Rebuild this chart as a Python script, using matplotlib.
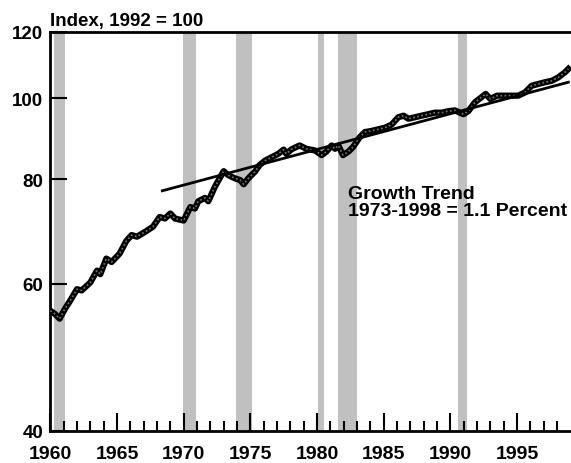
import numpy as np
import matplotlib.pyplot as plt
from matplotlib.ticker import FixedLocator, NullFormatter

# Index, 1992 = 100
years = [1960.0, 1960.35, 1960.7, 1961.1, 1961.5, 1962.0, 1962.35, 1963.0, 1963.5, 1963.75,
         1964.2, 1964.6, 1965.2, 1965.7, 1966.1, 1966.5, 1967.1, 1967.7, 1968.2, 1968.6,
         1969.0, 1969.35, 1970.0, 1970.5, 1970.85, 1971.1, 1971.6, 1971.85, 1972.35, 1973.0,
         1973.35, 1973.85, 1974.25, 1974.5, 1974.85, 1975.35, 1975.7, 1976.1, 1976.6, 1977.1,
         1977.5, 1977.7, 1978.1, 1978.7, 1979.2, 1979.85, 1980.35, 1980.7, 1981.1, 1981.35,
         1981.6, 1981.95, 1982.35, 1982.7, 1983.2, 1983.6, 1984.1, 1984.6, 1985.1, 1985.6,
         1986.1, 1986.5, 1986.85, 1987.35, 1987.85, 1988.35, 1988.85, 1989.35, 1989.85, 1990.35,
         1990.7, 1991.0, 1991.35, 1991.85, 1992.35, 1992.65, 1993.0, 1993.5, 1994.0, 1994.6,
         1995.1, 1995.6, 1996.1, 1996.6, 1997.1, 1997.6, 1998.1, 1998.6, 1998.85]
index = [55.7, 55.2, 54.5, 56.0, 57.3, 59.1, 58.9, 60.2, 62.2, 61.6,
         64.3, 63.7, 65.2, 67.5, 68.6, 68.3, 69.2, 70.2, 72.1, 71.8,
         72.8, 71.8, 71.4, 74.1, 73.8, 75.3, 76.0, 75.3, 78.4, 81.8,
         80.9, 80.2, 79.8, 78.9, 80.2, 81.7, 83.2, 84.2, 85.0, 85.8,
         86.8, 85.8, 86.9, 87.8, 87.0, 86.6, 85.5, 86.3, 87.8, 87.0,
         87.8, 85.5, 86.3, 87.4, 89.8, 91.1, 91.4, 91.8, 92.2, 93.0,
         94.9, 95.3, 94.5, 94.9, 95.3, 95.7, 96.1, 96.1, 96.5, 96.7,
         96.1, 95.7, 96.5, 98.9, 100.3, 101.2, 99.8, 100.7, 100.7, 100.7,
         100.7, 101.6, 103.5, 104.0, 104.5, 104.9, 105.9, 107.4, 108.4]

trend_years = [1968.4, 1998.85]
trend_vals = [77.5, 104.5]

recessions = [(1960.3, 1961.1), (1969.95, 1970.9), (1973.9, 1975.15),
              (1980.05, 1980.55), (1981.6, 1983.0), (1990.6, 1991.25)]

ytick_vals = [40, 60, 80, 100, 120]

plt.rcParams['font.family'] = 'Liberation Sans'
plt.rcParams['font.weight'] = 'bold'

fig = plt.figure(figsize=(5.71, 4.64), dpi=100)
ax = fig.add_axes([0.0881, 0.069, 0.9119, 0.8599])

for a, b in recessions:
    ax.axvspan(a, b, color='#c0c0c0', lw=0, zorder=1)

ax.plot(years, index, color='black', lw=4.5, solid_joinstyle='round', zorder=3)
ax.plot(years, index, color='#777777', lw=1.2, ls=(0, (1, 1.5)), zorder=4)
ax.plot(trend_years, trend_vals, color='black', lw=2, zorder=5)

ax.set_yscale('log')
ax.set_ylim(40, 120)
ax.set_xlim(1960, 1999.05)
ax.yaxis.set_major_locator(FixedLocator(ytick_vals))
ax.yaxis.set_minor_formatter(NullFormatter())
ax.yaxis.set_minor_locator(FixedLocator([]))
ax.set_yticklabels([str(v) for v in ytick_vals])
ax.set_xticks(np.arange(1960, 1996, 5))
ax.set_xticks(np.arange(1960, 1999, 1), minor=True)

ax.tick_params(axis='y', direction='in', length=12, width=1.5, pad=5, labelsize=13.5)
ax.tick_params(axis='x', which='major', direction='in', length=13, width=1.5, pad=10, labelsize=14)
ax.tick_params(axis='x', which='minor', direction='in', length=7, width=1.5)
ax.tick_params(right=False)

for s in ['left', 'bottom', 'top']:
    ax.spines[s].set_linewidth(2)
ax.spines['right'].set_visible(False)

fig.text(0.0881, 0.943, 'Index, 1992 = 100', fontsize=13.5, fontweight='bold', ha='left', va='baseline')
ax.text(1982.3, 78.8, 'Growth Trend\n1973-1998 = 1.1 Percent', fontsize=14, fontweight='bold',
        ha='left', va='top', linespacing=1.0)

fig.savefig('out.png', dpi=100)
